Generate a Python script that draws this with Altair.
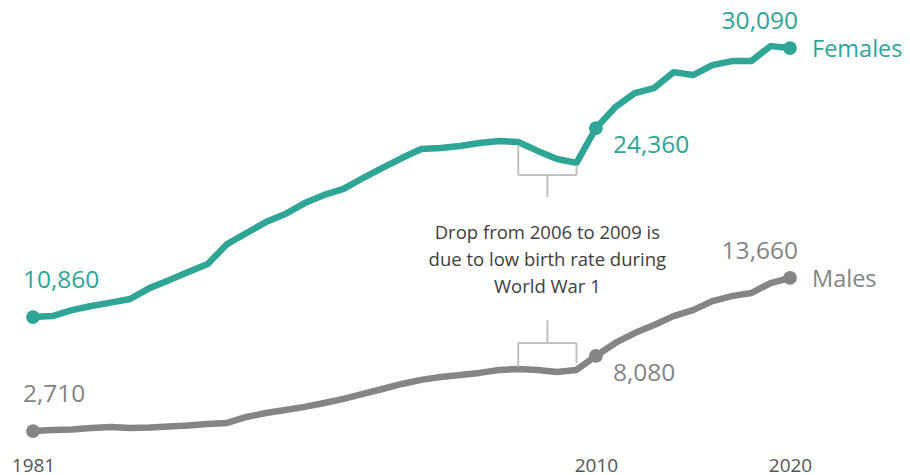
import altair as alt
import pandas as pd

years = list(range(1981, 2021))
females = [10860, 10930, 11360, 11650, 11890, 12150, 12930, 13500, 14080, 14650,
           16080, 16870, 17650, 18230, 19010, 19590, 20020, 20800, 21520, 22230,
           22880, 22950, 23090, 23310, 23450, 23380, 22740, 22160, 21880, 24360,
           25870, 26870, 27230, 28370, 28160, 28870, 29160, 29160, 30230, 30090]
males = [2710, 2780, 2820, 2930, 3000, 2930, 2960, 3040, 3110, 3210,
         3290, 3720, 4000, 4220, 4440, 4720, 5010, 5370, 5720, 6080,
         6370, 6580, 6720, 6870, 7080, 7150, 7080, 6940, 7080, 8080,
         9010, 9720, 10290, 10930, 11360, 12000, 12360, 12580, 13290, 13660]
series_names = ["Females", "Males"]
series_colors = ["#2fa596", "#858585"]
marked_years = [1981, 2010, 2020]
axis_years = [1981, 2010, 2020]
note_lines = ["Drop from 2006 to 2009 is", "due to low birth rate during", "World War 1"]

FONT = "Open Sans"

df = pd.DataFrame({
    "year": years * 2,
    "value": females + males,
    "series": ["Females"] * len(years) + ["Males"] * len(years),
})

xs = alt.Scale(domain=[1981, 2020], nice=False, zero=False)
ys = alt.Scale(domain=[1215, 32955], nice=False, zero=False)
cs = alt.Scale(domain=series_names, range=series_colors)

xaxis = alt.Axis(values=axis_years, format="d", title=None, grid=False,
                 domain=False, ticks=False, labelPadding=4, labelFlush=False,
                 labelFontSize=19, labelColor="#555555", labelFont=FONT)
X = alt.X("year:Q", scale=xs, axis=xaxis)
Y = alt.Y("value:Q", scale=ys, axis=None)
C = alt.Color("series:N", scale=cs, legend=None)

base = alt.Chart(df)

lines = base.mark_line(strokeWidth=6.5, strokeJoin="round", strokeCap="round").encode(x=X, y=Y, color=C)
dots = base.mark_circle(size=190, opacity=1).encode(x=X, y=Y, color=C).transform_filter(
    alt.FieldOneOfPredicate(field="year", oneOf=marked_years))

def lab(year, **kw):
    return base.mark_text(font=FONT, fontSize=24.5, baseline="middle", **kw).encode(
        x=X, y=Y, color=C, text=alt.Text("value:Q", format=",")
    ).transform_filter(alt.datum.year == year)

start_lab = lab(1981, align="left", dx=-10, dy=-36)
mid_lab = lab(2010, align="left", dx=17, dy=18)
end_lab = lab(2020, align="right", dx=8, dy=-26)
name_lab = base.mark_text(font=FONT, fontSize=23.5, baseline="middle", align="left", dx=22, dy=2).encode(
    x=X, y=Y, color=C, text="series:N").transform_filter(alt.datum.year == 2020)

# bracket annotations (year span 2006-2009)
br = pd.DataFrame({
    "bx":  [2006, 2009, 2006, 2007.5, 2006, 2009, 2006, 2007.5],
    "bx2": [2006, 2009, 2009, 2007.5, 2006, 2009, 2009, 2007.5],
    "by":  [23160, 21730, 21010, 21010, 9000, 9000, 9000, 9000],
    "by2": [21010, 21010, 21010, 19440, 7285, 7570, 9000, 10645],
})
brackets = alt.Chart(br).mark_rule(color="#c2c2c2", strokeWidth=2).encode(
    x=alt.X("bx:Q", scale=xs, axis=xaxis), x2=alt.X2("bx2"),
    y=alt.Y("by:Q", scale=ys, axis=None), y2=alt.Y2("by2"))

note_df = pd.DataFrame({"nx": [2007.5], "ny": [16865], "t": ["\n".join(note_lines)]})
note = alt.Chart(note_df).mark_text(
    font=FONT, fontSize=18.5, color="#404040", align="center", baseline="middle",
    lineBreak="\n", lineHeight=27
).encode(x=alt.X("nx:Q", scale=xs, axis=xaxis), y=alt.Y("ny:Q", scale=ys, axis=None), text="t:N")

chart = alt.layer(lines, brackets, dots, start_lab, mid_lab, end_lab, name_lab, note).properties(
    width=757, height=444,
    autosize=alt.AutoSizeParams(type="none"),
    padding={"left": 25, "top": 0, "right": 112, "bottom": 23},
).configure_view(strokeWidth=0)

chart.save("out.html", embed_options={"renderer": "svg", "actions": False})
